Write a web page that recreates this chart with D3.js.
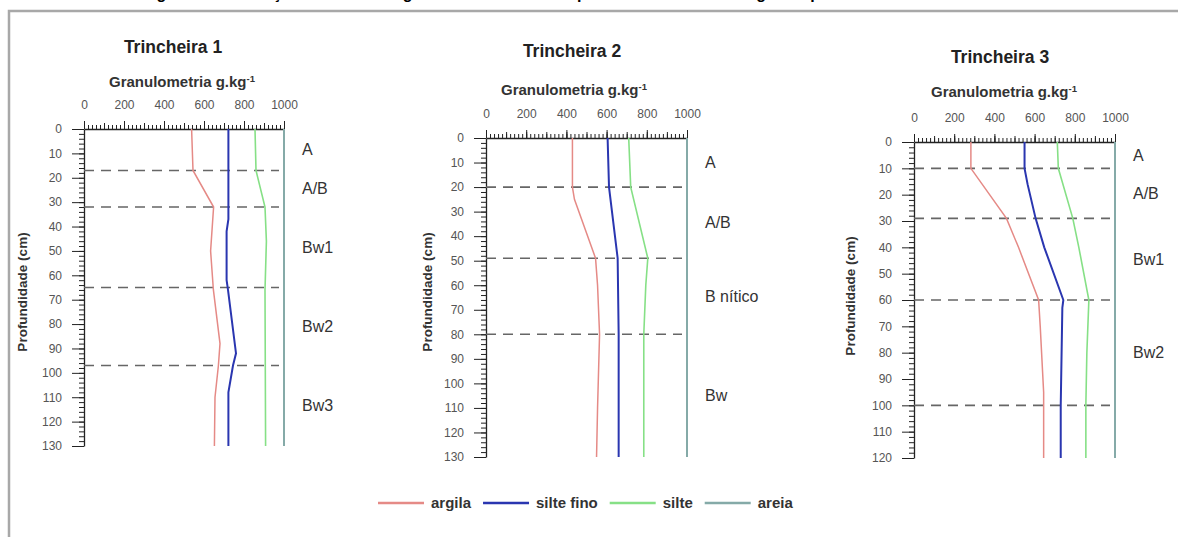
<!DOCTYPE html>
<html>
<head>
<meta charset="utf-8">
<script src="https://cdn.jsdelivr.net/npm/d3@7"></script>
<style>
  body { margin: 0; background: #fff; }
  text { font-family: Arial, "Liberation Sans", sans-serif; }
</style>
</head>
<body>
<div id="chart"></div>
<script>
// ---- data ----
var panelTitles = ['Trincheira 1', 'Trincheira 2', 'Trincheira 3']
var depthMax = [130, 130, 120]
var xTicks = [0, 200, 400, 600, 800, 1000]
var seriesNames = ['argila', 'silte fino', 'silte', 'areia']

// Trincheira 1
var t1_argila_depth = [0, 17, 32, 50, 66, 88, 97, 110, 130]
var t1_argila = [538, 545, 648, 633, 647, 680, 672, 655, 652]
var t1_siltefino_depth = [0, 37, 42, 62, 66, 92, 97, 108, 130]
var t1_siltefino = [722, 722, 713, 713, 720, 760, 745, 722, 722]
var t1_silte_depth = [0, 17, 32, 46, 66, 130]
var t1_silte = [855, 860, 905, 912, 905, 908]
var t1_areia_depth = [0, 130]
var t1_areia = [1000, 1000]
var t1_horizons = [17, 32, 65, 97]
var t1_labels = ['A', 'A/B', 'Bw1', 'Bw2', 'Bw3']

// Trincheira 2
var t2_argila_depth = [0, 20, 25, 49, 60, 80, 110, 130]
var t2_argila = [430, 430, 440, 545, 555, 565, 555, 550]
var t2_siltefino_depth = [0, 20, 49, 80, 130]
var t2_siltefino = [605, 612, 655, 660, 660]
var t2_silte_depth = [0, 20, 49, 60, 80, 130]
var t2_silte = [710, 720, 805, 795, 785, 785]
var t2_areia_depth = [0, 130]
var t2_areia = [1000, 1000]
var t2_horizons = [20, 49, 80]
var t2_labels = ['A', 'A/B', 'B nítico', 'Bw']

// Trincheira 3
var t3_argila_depth = [0, 10, 29, 40, 60, 70, 95, 120]
var t3_argila = [283, 283, 460, 520, 620, 628, 645, 645]
var t3_siltefino_depth = [0, 10, 16, 29, 40, 60, 63, 100, 120]
var t3_siltefino = [550, 550, 565, 605, 648, 743, 738, 730, 730]
var t3_silte_depth = [0, 10, 29, 40, 60, 80, 100, 120]
var t3_silte = [713, 718, 790, 820, 870, 860, 855, 855]
var t3_areia_depth = [0, 120]
var t3_areia = [1000, 1000]
var t3_horizons = [10, 29, 60, 100]
var t3_labels = ['A', 'A/B', 'Bw1', 'Bw2']

// ---- styling ----
var COLORS = ['#e58a86', '#2a36b0', '#86e086', '#85aaa8']
var WIDTHS = [1.5, 2, 1.6, 2]

var width = 1178
var height = 537

var svg = d3
  .select('#chart')
  .append('svg')
  .attr('width', width)
  .attr('height', height)

// caption above the frame (cut by the top edge, as in the source)
svg
  .append('text')
  .attr('x', 600)
  .attr('y', -1)
  .attr('text-anchor', 'middle')
  .attr('font-size', 16)
  .attr('font-weight', 'bold')
  .attr('fill', '#000')
  .attr('textLength', 920)
  .attr('lengthAdjust', 'spacing')
  .text('Figura 4 - Variação da textura granulométrica dos perfis de solo ao longo da profundidade dos horizontes')

svg
  .append('rect')
  .attr('x', 9)
  .attr('y', 11)
  .attr('width', 1200)
  .attr('height', 600)
  .attr('fill', 'none')
  .attr('stroke', '#a8a8a8')
  .attr('stroke-width', 2.5)

var layout = [
  { x0: 84, x1: 284, y0: 129, y1: 446, titleX: 173, titleY: 47, granX: 182, granY: 82, labX: 22, labY: 292 },
  { x0: 486, x1: 687, y0: 138, y1: 457, titleX: 572, titleY: 51, granX: 574, granY: 90, labX: 427, labY: 292 },
  { x0: 914, x1: 1115, y0: 142, y1: 458, titleX: 1000, titleY: 57, granX: 1004, granY: 92, labX: 850, labY: 296 }
]

var panels = [
  {
    series: [
      [t1_argila_depth, t1_argila],
      [t1_siltefino_depth, t1_siltefino],
      [t1_silte_depth, t1_silte],
      [t1_areia_depth, t1_areia]
    ],
    horizons: t1_horizons,
    labels: t1_labels
  },
  {
    series: [
      [t2_argila_depth, t2_argila],
      [t2_siltefino_depth, t2_siltefino],
      [t2_silte_depth, t2_silte],
      [t2_areia_depth, t2_areia]
    ],
    horizons: t2_horizons,
    labels: t2_labels
  },
  {
    series: [
      [t3_argila_depth, t3_argila],
      [t3_siltefino_depth, t3_siltefino],
      [t3_silte_depth, t3_silte],
      [t3_areia_depth, t3_areia]
    ],
    horizons: t3_horizons,
    labels: t3_labels
  }
]

panels.forEach(function (p, i) {
  var L = layout[i]
  var x = d3.scaleLinear().domain([0, 1000]).range([L.x0, L.x1])
  var y = d3.scaleLinear().domain([0, depthMax[i]]).range([L.y0, L.y1])
  var g = svg.append('g')

  // titles
  g.append('text')
    .attr('x', L.titleX)
    .attr('y', L.titleY)
    .attr('dy', '0.35em')
    .attr('text-anchor', 'middle')
    .attr('font-size', 17.5)
    .attr('font-weight', 'bold')
    .attr('fill', '#222')
    .text(panelTitles[i])

  var gran = g
    .append('text')
    .attr('x', L.granX)
    .attr('y', L.granY)
    .attr('dy', '0.35em')
    .attr('text-anchor', 'middle')
    .attr('font-size', 15)
    .attr('font-weight', 'bold')
    .attr('fill', '#333')
  gran.append('tspan').text('Granulometria g.kg')
  gran.append('tspan').attr('font-size', 9.5).attr('dy', '-0.6em').text('-1')

  g.append('text')
    .attr('transform', 'translate(' + L.labX + ',' + L.labY + ') rotate(-90)')
    .attr('dy', '0.35em')
    .attr('text-anchor', 'middle')
    .attr('font-size', 13.5)
    .attr('font-weight', 'bold')
    .attr('fill', '#333')
    .text('Profundidade (cm)')

  // top axis: minor, medium, major
  var topMinor = g
    .append('g')
    .attr('transform', 'translate(0,' + L.y0 + ')')
    .call(d3.axisTop(x).tickValues(d3.range(0, 1001, 20)).tickSize(4).tickFormat(''))
  var topMid = g
    .append('g')
    .attr('transform', 'translate(0,' + L.y0 + ')')
    .call(d3.axisTop(x).tickValues(d3.range(0, 1001, 100)).tickSize(6).tickFormat(''))
  var topMajor = g
    .append('g')
    .attr('transform', 'translate(0,' + L.y0 + ')')
    .call(
      d3
        .axisTop(x)
        .tickValues(xTicks)
        .tickSize(8)
        .tickSizeOuter(0)
        .tickPadding(12)
        .tickFormat(d3.format('d'))
    )
  topMinor.select('.domain').remove()
  topMid.select('.domain').remove()

  // left axis
  var leftMinor = g
    .append('g')
    .attr('transform', 'translate(' + L.x0 + ',0)')
    .call(d3.axisLeft(y).tickValues(d3.range(0, depthMax[i] + 1, 2)).tickSize(5).tickFormat(''))
  var leftMajor = g
    .append('g')
    .attr('transform', 'translate(' + L.x0 + ',0)')
    .call(
      d3
        .axisLeft(y)
        .tickValues(d3.range(0, depthMax[i] + 1, 10))
        .tickSize(12)
        .tickSizeOuter(0)
        .tickPadding(10)
        .tickFormat(d3.format('d'))
    )
  leftMinor.select('.domain').remove()

  g.selectAll('.tick line').attr('stroke', '#222')
  g.selectAll('.domain').attr('stroke', '#222').attr('stroke-width', 1.3)
  g.selectAll('.tick text')
    .attr('font-size', 12)
    .attr('fill', '#555')
    .style('font-family', 'Arial, "Liberation Sans", sans-serif')

  // horizon boundaries
  g.selectAll('.horizon')
    .data(p.horizons)
    .enter()
    .append('line')
    .attr('x1', L.x0)
    .attr('x2', L.x1 - 5)
    .attr('y1', d => y(d))
    .attr('y2', d => y(d))
    .attr('stroke', '#666')
    .attr('stroke-width', 1.6)
    .attr('stroke-dasharray', '10,7')

  // horizon names at the middle of each layer
  var bounds = [0].concat(p.horizons).concat([depthMax[i]])
  g.selectAll('.hlabel')
    .data(p.labels)
    .enter()
    .append('text')
    .attr('x', L.x1 + 18)
    .attr('y', (d, k) => y((bounds[k] + bounds[k + 1]) / 2))
    .attr('dy', '0.35em')
    .attr('font-size', 16)
    .attr('fill', '#333')
    .text(d => d)

  // profiles
  var line = d3
    .line()
    .x(d => x(d[1]))
    .y(d => y(d[0]))

  p.series.forEach(function (s, k) {
    var pts = s[0].map((dep, j) => [dep, s[1][j]])
    g.append('path')
      .datum(pts)
      .attr('d', line)
      .attr('fill', 'none')
      .attr('stroke', COLORS[k])
      .attr('stroke-width', WIDTHS[k])
  })
})

// legend
var legend = svg.append('g').attr('transform', 'translate(378,503)')
var lx = 0
seriesNames.forEach(function (name, k) {
  legend
    .append('line')
    .attr('x1', lx)
    .attr('x2', lx + 46)
    .attr('stroke', COLORS[k])
    .attr('stroke-width', 2.5)
  var t = legend
    .append('text')
    .attr('x', lx + 53)
    .attr('dy', '0.35em')
    .attr('font-size', 15)
    .attr('font-weight', 'bold')
    .attr('fill', '#333')
    .text(name)
  lx += 53 + t.node().getComputedTextLength() + 12
})
</script>
</body>
</html>
